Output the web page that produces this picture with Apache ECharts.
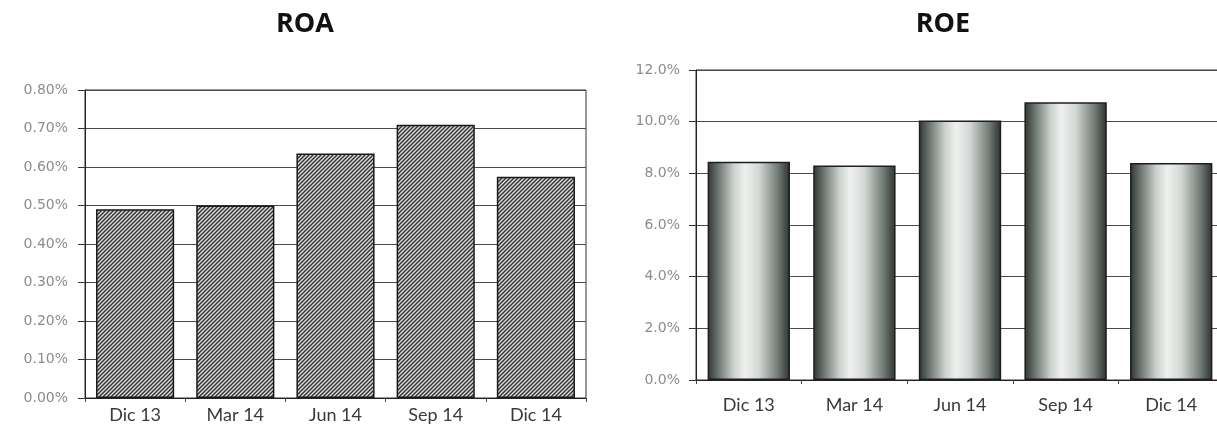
<!DOCTYPE html>
<html>
<head>
<meta charset="utf-8">
<script src="https://cdn.jsdelivr.net/npm/echarts@6/dist/echarts.min.js"></script>
<style>
html,body{margin:0;padding:0;background:#fff;}
#chart{width:1217px;height:434px;}
</style>
</head>
<body>
<div id="chart"></div>
<script>
// ---- data ----
const categories = ['Dic 13', 'Mar 14', 'Jun 14', 'Sep 14', 'Dic 14'];
const roaValues = [0.49, 0.50, 0.635, 0.71, 0.575];   // %
const roeValues = [8.45, 8.30, 10.05, 10.75, 8.40];   // %
const roaTitle = 'ROA';
const roeTitle = 'ROE';

// hatch pattern for ROA bars
function makeHatch() {
  const c = document.createElement('canvas');
  c.width = 4; c.height = 4;
  const g = c.getContext('2d');
  g.fillStyle = '#d6d6d6';
  g.fillRect(0, 0, 4, 4);
  g.strokeStyle = '#2e2e2e';
  g.lineWidth = 1.25;
  g.beginPath();
  g.moveTo(-1, 5); g.lineTo(5, -1);
  g.moveTo(-1, 1); g.lineTo(1, -1);
  g.moveTo(3, 5); g.lineTo(5, 3);
  g.stroke();
  return c;
}

const cylinder = {
  type: 'linear', x: 0, y: 0, x2: 1, y2: 0,
  colorStops: [
    { offset: 0, color: '#2f3532' },
    { offset: 0.12, color: '#68716b' },
    { offset: 0.32, color: '#cdd2ce' },
    { offset: 0.45, color: '#eef0ee' },
    { offset: 0.62, color: '#d4d8d5' },
    { offset: 0.85, color: '#737c77' },
    { offset: 1, color: '#2c312e' }
  ]
};

const chart = echarts.init(document.getElementById('chart'), null, { renderer: 'canvas' });

const yLabel = { color: '#8c8c8c', fontSize: 14, fontFamily: 'DejaVu Sans' };
const xLabel = { color: '#3a3a3a', fontSize: 18, fontFamily: 'Lato' };
const titleStyle = { fontFamily: 'Open Sans', fontWeight: 'bold', fontSize: 27, color: '#111' };

chart.setOption({
  animation: false,
  backgroundColor: '#fff',
  title: [
    { text: roaTitle, left: 300, top: 6, textAlign: 'center', textStyle: titleStyle },
    { text: roeTitle, left: 938, top: 6, textAlign: 'center', textStyle: titleStyle }
  ],
  grid: [
    { left: 85, top: 90, width: 501, height: 308, show: true, borderColor: '#333', borderWidth: 1,
      outerBoundsMode: 'none', containLabel: false },
    { left: 696, top: 70, width: 528, height: 310, show: true, borderColor: '#333', borderWidth: 1,
      outerBoundsMode: 'none', containLabel: false }
  ],
  xAxis: [
    { type: 'category', gridIndex: 0, data: categories,
      axisLine: { lineStyle: { color: '#222', width: 1 } },
      axisTick: { show: true, length: 4, lineStyle: { color: '#444' } },
      axisLabel: Object.assign({ margin: 8 }, xLabel) },
    { type: 'category', gridIndex: 1, data: categories,
      axisLine: { lineStyle: { color: '#222', width: 1 } },
      axisTick: { show: true, length: 4, lineStyle: { color: '#444' } },
      axisLabel: Object.assign({ margin: 16 }, xLabel) }
  ],
  yAxis: [
    { type: 'value', gridIndex: 0, min: 0, max: 0.8, interval: 0.1,
      axisLine: { show: true, lineStyle: { color: '#222' } },
      axisTick: { show: true, length: 7, lineStyle: { color: '#333' } },
      splitLine: { show: true, lineStyle: { color: '#4a4a4a', width: 1 } },
      axisLabel: Object.assign({ margin: 17, formatter: v => v.toFixed(2) + '%' }, yLabel) },
    { type: 'value', gridIndex: 1, min: 0, max: 12, interval: 2,
      axisLine: { show: true, lineStyle: { color: '#222' } },
      axisTick: { show: true, length: 7, lineStyle: { color: '#333' } },
      splitLine: { show: true, lineStyle: { color: '#4a4a4a', width: 1 } },
      axisLabel: Object.assign({ margin: 16, formatter: v => v.toFixed(1) + '%' }, yLabel) }
  ],
  series: [
    { type: 'bar', xAxisIndex: 0, yAxisIndex: 0, data: roaValues, barWidth: '78%',
      itemStyle: { color: { image: makeHatch(), repeat: 'repeat' }, borderColor: '#1a1a1a', borderWidth: 1.5 } },
    { type: 'bar', xAxisIndex: 1, yAxisIndex: 1, data: roeValues, barWidth: '78%',
      itemStyle: { color: cylinder, borderColor: '#1e1e1e', borderWidth: 1.5 } }
  ]
});
</script>
</body>
</html>
